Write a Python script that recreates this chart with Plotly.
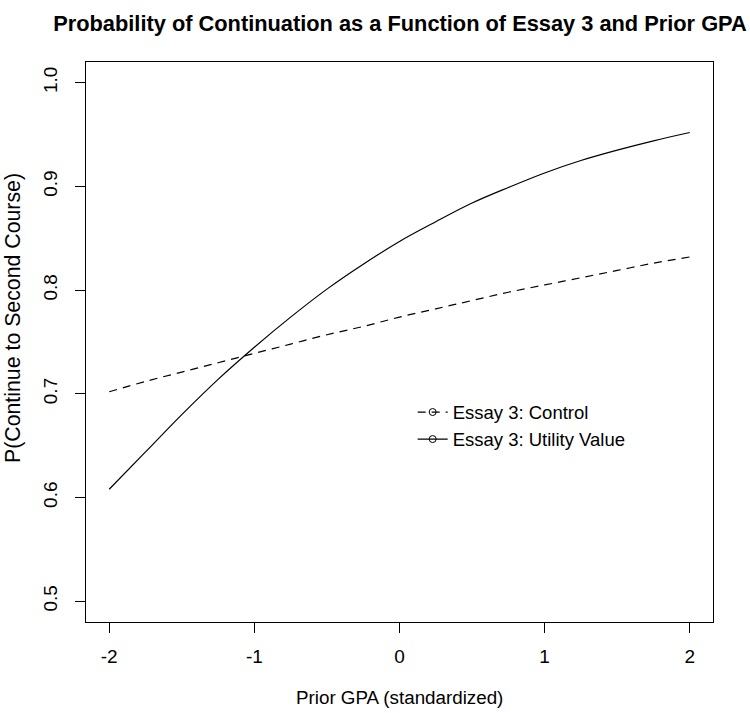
import plotly.graph_objects as go

# predicted probabilities
gpa = [-2.0, -1.75, -1.5, -1.25, -1.0, -0.75, -0.5, -0.25, 0.0,
       0.25, 0.5, 0.75, 1.0, 1.25, 1.5, 1.75, 2.0]
p_control = [0.702, 0.712, 0.721, 0.730, 0.739, 0.748, 0.757, 0.765, 0.774,
             0.782, 0.790, 0.798, 0.805, 0.812, 0.819, 0.826, 0.832]
p_utility = [0.608, 0.644, 0.680, 0.714, 0.745, 0.774, 0.801, 0.825, 0.847,
             0.866, 0.884, 0.899, 0.913, 0.925, 0.935, 0.944, 0.952]

names = ["Essay 3: Control", "Essay 3: Utility Value"]
x_ticks = [-2, -1, 0, 1, 2]
y_ticks = [0.5, 0.6, 0.7, 0.8, 0.9, 1.0]

font = "Liberation Sans, Arial, Helvetica, sans-serif"
dash_style = "8px,6px"

W, H = 750, 713
L, R, T, B = 86, 37, 62, 91
plot_w, plot_h = W - L - R, H - T - B

fig = go.Figure()

fig.add_trace(
    go.Scatter(
        x=gpa, y=p_control, mode="lines", showlegend=False,
        line=dict(color="black", width=1.2, dash=dash_style, shape="spline")
    )
)
fig.add_trace(
    go.Scatter(
        x=gpa, y=p_utility, mode="lines", showlegend=False,
        line=dict(color="black", width=1.2, shape="spline")
    )
)

# legend-only entries (line + open circle, like R's legend)
for name, dash in [(names[0], dash_style), (names[1], "solid")]:
    fig.add_trace(
        go.Scatter(
            x=[None], y=[None], mode="lines+markers", name=name,
            line=dict(color="black", width=1.2, dash=dash),
            marker=dict(symbol="circle-open", size=7, color="black",
                        line=dict(width=1))
        )
    )

fig.update_layout(
    width=W,
    height=H,
    template="simple_white",
    paper_bgcolor="white",
    plot_bgcolor="white",
    font=dict(family=font, size=19, color="black"),
    margin=dict(l=L, r=R, t=T, b=B),
    title=dict(
        text="<b>Probability of Continuation as a Function of Essay 3 and Prior GPA</b>",
        x=400 / W, xanchor="center", y=1 - 23 / H, yanchor="middle",
        font=dict(family=font, size=21.8, color="black")
    ),
    showlegend=True,
    legend=dict(
        x=0.521, y=(plot_h - (426 - T)) / plot_h, xanchor="left", yanchor="middle",
        bgcolor="rgba(0,0,0,0)", borderwidth=0,
        font=dict(family=font, size=18.5),
        itemwidth=30
    ),
    xaxis=dict(
        range=[-2.16, 2.16], tickvals=x_ticks, ticktext=[str(v) for v in x_ticks],
        showline=True, mirror=True, linecolor="black", linewidth=1,
        ticks="outside", ticklen=10, tickcolor="black", tickwidth=1,
        ticklabelstandoff=7, showgrid=False, zeroline=False, automargin=False
    ),
    yaxis=dict(
        range=[0.48, 1.02], tickvals=y_ticks, ticktext=["%.1f" % v for v in y_ticks],
        tickangle=-90,
        showline=True, mirror=True, linecolor="black", linewidth=1,
        ticks="outside", ticklen=10, tickcolor="black", tickwidth=1,
        ticklabelstandoff=10, showgrid=False, zeroline=False, automargin=False
    ),
    annotations=[
        dict(text="Prior GPA (standardized)", xref="paper", yref="paper",
             x=0.5, y=-(697 - 622) / plot_h, xanchor="center", yanchor="middle",
             showarrow=False, font=dict(family=font, size=18.8)),
        dict(text="P(Continue to Second Course)", xref="paper", yref="paper",
             x=-(86 - 13) / plot_w, y=(622 - 318) / plot_h, xanchor="center",
             yanchor="middle", textangle=-90, showarrow=False,
             font=dict(family=font, size=21.3)),
    ],
)

# drop the default 8px page margin so the figure fills the window exactly
fig.write_html(
    "out.html",
    config={"displayModeBar": False},
    post_script="document.body.style.margin='0';"
)
